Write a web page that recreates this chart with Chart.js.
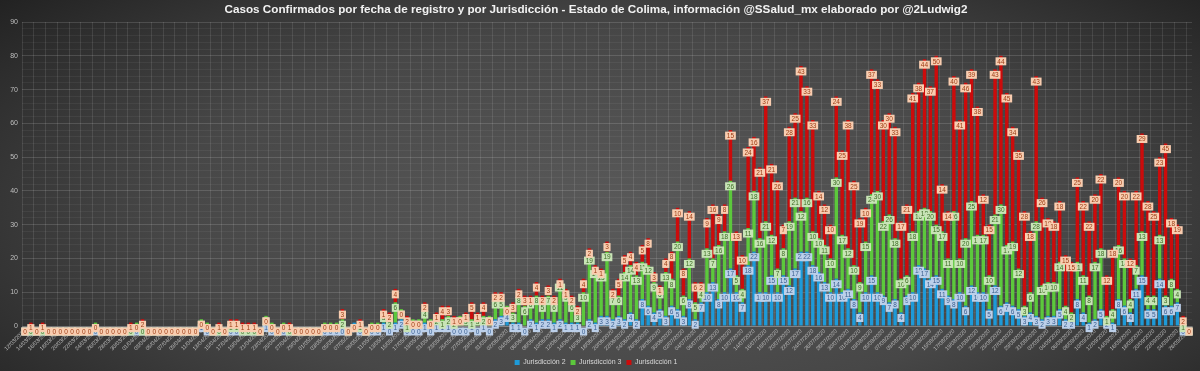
<!DOCTYPE html>
<html><head><meta charset="utf-8">
<script src="https://cdn.jsdelivr.net/npm/chart.js@4.4.0/dist/chart.umd.min.js"></script>
<style>html,body{margin:0;padding:0;background:#3a3a3a;overflow:hidden}#wrap{width:1200px;height:371px;position:relative}canvas{display:block}</style>
</head><body><div id="wrap"><canvas id="c" width="1200" height="371"></canvas></div>
<script>
const fechas = [
'12/03/2020','13/03/2020','14/03/2020','15/03/2020','16/03/2020','17/03/2020','18/03/2020','19/03/2020','20/03/2020','21/03/2020','22/03/2020','23/03/2020','24/03/2020','25/03/2020','26/03/2020','27/03/2020','28/03/2020','29/03/2020','30/03/2020','31/03/2020',
'01/04/2020','02/04/2020','03/04/2020','04/04/2020','05/04/2020','06/04/2020','07/04/2020','08/04/2020','09/04/2020','10/04/2020','11/04/2020','12/04/2020','13/04/2020','14/04/2020','15/04/2020','16/04/2020','17/04/2020','18/04/2020','19/04/2020','20/04/2020','21/04/2020','22/04/2020','23/04/2020','24/04/2020','25/04/2020','26/04/2020','27/04/2020','28/04/2020','29/04/2020','30/04/2020',
'01/05/2020','02/05/2020','03/05/2020','04/05/2020','05/05/2020','06/05/2020','07/05/2020','08/05/2020','09/05/2020','10/05/2020','11/05/2020','12/05/2020','13/05/2020','14/05/2020','15/05/2020','16/05/2020','17/05/2020','18/05/2020','19/05/2020','20/05/2020','21/05/2020','22/05/2020','23/05/2020','24/05/2020','25/05/2020','26/05/2020','27/05/2020','28/05/2020','29/05/2020','30/05/2020','31/05/2020',
'01/06/2020','02/06/2020','03/06/2020','04/06/2020','05/06/2020','06/06/2020','07/06/2020','08/06/2020','09/06/2020','10/06/2020','11/06/2020','12/06/2020','13/06/2020','14/06/2020','15/06/2020','16/06/2020','17/06/2020','18/06/2020','19/06/2020','20/06/2020','21/06/2020','22/06/2020','23/06/2020','24/06/2020','25/06/2020','26/06/2020','27/06/2020','28/06/2020','29/06/2020','30/06/2020',
'01/07/2020','02/07/2020','03/07/2020','04/07/2020','05/07/2020','06/07/2020','07/07/2020','08/07/2020','09/07/2020','10/07/2020','11/07/2020','12/07/2020','13/07/2020','14/07/2020','15/07/2020','16/07/2020','17/07/2020','18/07/2020','19/07/2020','20/07/2020','21/07/2020','22/07/2020','23/07/2020','24/07/2020','25/07/2020','26/07/2020','27/07/2020','28/07/2020','29/07/2020','30/07/2020','31/07/2020',
'01/08/2020','02/08/2020','03/08/2020','04/08/2020','05/08/2020','06/08/2020','07/08/2020','08/08/2020','09/08/2020','10/08/2020','11/08/2020','12/08/2020','13/08/2020','14/08/2020','15/08/2020','16/08/2020','17/08/2020','18/08/2020','19/08/2020','20/08/2020','21/08/2020','22/08/2020','23/08/2020','24/08/2020','25/08/2020','26/08/2020','27/08/2020','28/08/2020','29/08/2020','30/08/2020','31/08/2020',
'01/09/2020','02/09/2020','03/09/2020','04/09/2020','05/09/2020','06/09/2020','07/09/2020','08/09/2020','09/09/2020','10/09/2020','11/09/2020','12/09/2020','13/09/2020','14/09/2020','15/09/2020','16/09/2020','17/09/2020','18/09/2020','19/09/2020','20/09/2020','21/09/2020','22/09/2020','23/09/2020','24/09/2020','25/09/2020','26/09/2020'
];

// Jurisdicción 2 (azul)
const jurisdiccion2 = [
0,0,0,0,0,0,0,0,0,0, 0,0,0,0,0,0,0,0,0,0, 0,0,0,0,0,0,0,0,0,0,
1,0,0,0,0,0,0,0,0,0, 0,1,0,0,0,0,0,0,0,0, 0,0,0,0,0,0,1,0,0,0,
0,1,0,1,2,0,0,0,1,0, 1,1,1,0,0,0,1,0,1,0, 2,3,4,1,1,0,2,1,2,2,
1,2,1,1,1,0,2,1,3,3, 2,3,2,4,2,8,6,4,5,3, 6,5,3,8,2,7,10,13,8,10,
17,10,7,18,22,10,10,15,10,15, 12,17,22,22,18,16,13,10,14,10, 11,8,4,10,15,10,9,7,8,4,
9,10,18,17,14,15,11,9,8,10, 6,12,10,10,5,12,6,7,6,5, 3,4,3,2,3,3,5,2,2,8,
4,1,2,5,2,1,8,6,4,11, 15,5,5,14,6,6,7,0,0
];
// Jurisdicción 3 (verde)
const jurisdiccion3 = [
0,0,0,0,0,0,0,0,0,0, 0,0,1,0,0,0,0,0,0,1, 0,0,0,0,0,0,0,0,0,0,
1,1,0,0,0,1,1,0,0,0, 0,2,1,0,1,0,0,0,0,0, 0,1,1,1,2,0,0,1,0,1,
1,3,2,6,3,1,2,2,4,2, 2,1,2,2,3,3,1,3,2,3, 6,5,2,3,8,6,6,8,5,7,
6,11,9,6,3,10,19,16,13,19, 7,6,14,14,13,11,12,9,6,13, 8,20,6,12,5,4,13,7,16,18,
26,5,4,11,18,16,21,12,7,8, 19,21,12,16,10,10,11,10,30,17, 12,10,9,15,24,30,22,26,18,10,
6,18,16,18,20,15,17,11,26,10, 20,25,17,17,10,21,30,17,19,12, 3,6,28,10,10,10,14,4,2,11,
11,8,17,18,1,4,16,14,4,7, 13,4,4,13,3,8,4,1,0
];
// Jurisdicción 1 (rojo)
const jurisdiccion1 = [
0,1,0,1,0,0,0,0,0,0, 0,0,0,0,0,0,0,0,1,0, 2,0,0,0,0,0,0,0,0,0,
0,0,0,1,0,1,1,1,1,1, 0,0,0,0,0,1,0,0,0,0, 0,0,0,0,3,0,0,1,0,0,
0,1,2,4,0,2,0,0,2,0, 1,4,3,1,0,1,5,1,4,0, 2,2,0,3,2,3,1,4,2,3,
2,1,1,2,2,4,2,1,1,3, 2,5,5,4,4,5,8,3,1,4, 8,10,8,14,6,2,9,16,9,8,
15,13,10,24,16,21,37,21,26,7, 28,25,43,33,33,14,12,10,24,25, 38,25,19,10,37,33,30,30,33,17,
21,41,38,44,37,50,14,14,40,41, 46,39,38,12,15,43,44,45,34,35, 28,18,43,26,19,18,18,15,15,25,
22,22,20,22,12,18,20,20,12,22, 29,28,25,23,45,18,19,2,0
];

const colores = { j2:'#1e9ad8', j3:'#5cc83c', j1:'#cc0b0b' };
const labelBg = ['#bcd0ea','#c8e4b6','#f9cdb0'];
const labelFg = ['#3a5f8f','#3e6b25','#9a3b12'];

const bgPlugin = {
  id:'bg',
  beforeDraw(chart){
    const {ctx,width,height} = chart;
    ctx.save();
    const cx=620, cy=215, rx=820, ry=330, s=ry/rx;
    ctx.translate(cx,cy); ctx.scale(1,s);
    const g = ctx.createRadialGradient(0,0,0,0,0,rx);
    g.addColorStop(0,'#5a5a5a');
    g.addColorStop(0.55,'#474747');
    g.addColorStop(1,'#222222');
    ctx.fillStyle=g;
    ctx.fillRect(-cx,-cy/s,width,height/s);
    ctx.restore();
  }
};

const segLabels = {
  id:'segLabels',
  afterDatasetsDraw(chart){
    const ctx = chart.ctx;
    ctx.save();
    ctx.font = '6.5px "Liberation Sans", Arial, sans-serif';
    ctx.textAlign='center'; ctx.textBaseline='middle';
    chart.data.datasets.forEach((ds,d)=>{
      const meta = chart.getDatasetMeta(d);
      if (meta.hidden) return;
      meta.data.forEach((el,i)=>{
        const v = ds.data[i];
        const top = Math.min(el.y, el.base);
        const cy = top + 5.5;
        const t = String(v);
        const w = ctx.measureText(t).width + 3.5;
        const h = 8;
        ctx.fillStyle = labelBg[d];
        ctx.fillRect(el.x - w/2, cy - h/2, w, h);
        ctx.fillStyle = labelFg[d];
        ctx.fillText(t, el.x, cy + 0.5);
      });
    });
    ctx.restore();
  }
};

new Chart(document.getElementById('c'), {
  type:'bar',
  data:{
    labels: fechas,
    datasets:[
      {label:'Jurisdicción 2', data:jurisdiccion2, backgroundColor:colores.j2, stack:'s'},
      {label:'Jurisdicción 3', data:jurisdiccion3, backgroundColor:colores.j3, stack:'s'},
      {label:'Jurisdicción 1', data:jurisdiccion1, backgroundColor:colores.j1, stack:'s'}
    ]
  },
  options:{
    responsive:false, animation:false, devicePixelRatio:1,
    layout:{padding:{left:0,right:8,top:0,bottom:-5}},
    datasets:{bar:{categoryPercentage:1, barPercentage:0.58}},
    plugins:{
      title:{display:true, text:'Casos Confirmados por fecha de registro y por Jurisdicción - Estado de Colima, información @SSalud_mx elaborado por @2Ludwig2',
        color:'#f2f2f2', font:{family:'"Liberation Sans", Arial, sans-serif', size:11.7, weight:'bold'}, padding:{top:3,bottom:5}},
      legend:{position:'bottom', labels:{color:'#d9d9d9', boxWidth:5, boxHeight:5, padding:5,
        font:{family:'"Liberation Sans", Arial, sans-serif', size:7}}},
      tooltip:{enabled:false}
    },
    scales:{
      x:{stacked:true,
        grid:{color:(c)=> (c.index%2===0 ? 'rgba(255,255,255,0.10)' : 'rgba(0,0,0,0)'), drawTicks:false},
        border:{color:'rgba(255,255,255,0.2)'},
        ticks:{autoSkip:false, minRotation:45, maxRotation:45, color:'#bfbfbf', padding:2,
          font:{family:'"Liberation Sans", Arial, sans-serif', size:5.5},
          callback:(v,i)=> (i%2===0 ? fechas[i] : '')},
        afterFit:(s)=>{ s.height = 28; }
      },
      y:{stacked:true, min:0, max:90,
        grid:{color:(c)=> (c.tick && c.tick.value%10===0 ? 'rgba(255,255,255,0.14)' : 'rgba(255,255,255,0.05)'), drawTicks:false},
        border:{display:false},
        ticks:{stepSize:2, autoSkip:false, color:'#bfbfbf', padding:4, font:{family:'"Liberation Sans", Arial, sans-serif', size:7},
          callback:(v)=> (v%10===0 ? v : '')},
        afterFit:(s)=>{ s.width = 22; }
      }
    }
  },
  plugins:[bgPlugin, segLabels]
});
</script>
</body></html>
